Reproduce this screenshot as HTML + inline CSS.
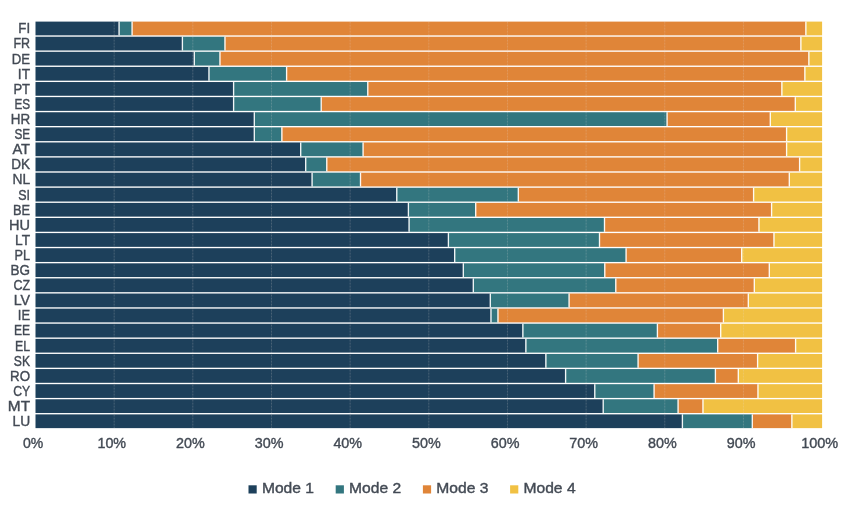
<!DOCTYPE html>
<html><head><meta charset="utf-8"><title>Chart</title>
<style>
html,body{margin:0;padding:0;background:#fff}
svg{display:block}
text{font-family:"Liberation Sans",sans-serif;font-size:15.2px;fill:#434a54;stroke:#434a54;stroke-width:0.4px}
</style></head>
<body>
<svg width="850" height="514" viewBox="0 0 850 514">
<rect width="850" height="514" fill="#fff"/>
<g shape-rendering="geometricPrecision">
<rect x="35.50" y="21.60" width="83.40" height="13.75" fill="#1d405b"/><rect x="118.90" y="21.60" width="13.00" height="13.75" fill="#33767f"/><rect x="131.90" y="21.60" width="673.80" height="13.75" fill="#e08538"/><rect x="805.70" y="21.60" width="16.40" height="13.75" fill="#f1c143"/>
<rect x="35.50" y="36.71" width="146.70" height="13.75" fill="#1d405b"/><rect x="182.20" y="36.71" width="42.60" height="13.75" fill="#33767f"/><rect x="224.80" y="36.71" width="575.90" height="13.75" fill="#e08538"/><rect x="800.70" y="36.71" width="21.40" height="13.75" fill="#f1c143"/>
<rect x="35.50" y="51.81" width="158.60" height="13.75" fill="#1d405b"/><rect x="194.10" y="51.81" width="25.70" height="13.75" fill="#33767f"/><rect x="219.80" y="51.81" width="588.90" height="13.75" fill="#e08538"/><rect x="808.70" y="51.81" width="13.40" height="13.75" fill="#f1c143"/>
<rect x="35.50" y="66.92" width="173.30" height="13.75" fill="#1d405b"/><rect x="208.80" y="66.92" width="77.60" height="13.75" fill="#33767f"/><rect x="286.40" y="66.92" width="518.30" height="13.75" fill="#e08538"/><rect x="804.70" y="66.92" width="17.40" height="13.75" fill="#f1c143"/>
<rect x="35.50" y="82.03" width="197.90" height="13.75" fill="#1d405b"/><rect x="233.40" y="82.03" width="134.20" height="13.75" fill="#33767f"/><rect x="367.60" y="82.03" width="414.10" height="13.75" fill="#e08538"/><rect x="781.70" y="82.03" width="40.40" height="13.75" fill="#f1c143"/>
<rect x="35.50" y="97.13" width="197.90" height="13.75" fill="#1d405b"/><rect x="233.40" y="97.13" width="87.60" height="13.75" fill="#33767f"/><rect x="321.00" y="97.13" width="474.10" height="13.75" fill="#e08538"/><rect x="795.10" y="97.13" width="27.00" height="13.75" fill="#f1c143"/>
<rect x="35.50" y="112.24" width="218.60" height="13.75" fill="#1d405b"/><rect x="254.10" y="112.24" width="412.80" height="13.75" fill="#33767f"/><rect x="666.90" y="112.24" width="103.20" height="13.75" fill="#e08538"/><rect x="770.10" y="112.24" width="52.00" height="13.75" fill="#f1c143"/>
<rect x="35.50" y="127.35" width="218.60" height="13.75" fill="#1d405b"/><rect x="254.10" y="127.35" width="27.60" height="13.75" fill="#33767f"/><rect x="281.70" y="127.35" width="504.70" height="13.75" fill="#e08538"/><rect x="786.40" y="127.35" width="35.70" height="13.75" fill="#f1c143"/>
<rect x="35.50" y="142.46" width="265.00" height="13.75" fill="#1d405b"/><rect x="300.50" y="142.46" width="62.40" height="13.75" fill="#33767f"/><rect x="362.90" y="142.46" width="423.50" height="13.75" fill="#e08538"/><rect x="786.40" y="142.46" width="35.70" height="13.75" fill="#f1c143"/>
<rect x="35.50" y="157.56" width="270.00" height="13.75" fill="#1d405b"/><rect x="305.50" y="157.56" width="21.10" height="13.75" fill="#33767f"/><rect x="326.60" y="157.56" width="472.80" height="13.75" fill="#e08538"/><rect x="799.40" y="157.56" width="22.70" height="13.75" fill="#f1c143"/>
<rect x="35.50" y="172.67" width="276.40" height="13.75" fill="#1d405b"/><rect x="311.90" y="172.67" width="48.40" height="13.75" fill="#33767f"/><rect x="360.30" y="172.67" width="428.80" height="13.75" fill="#e08538"/><rect x="789.10" y="172.67" width="33.00" height="13.75" fill="#f1c143"/>
<rect x="35.50" y="187.78" width="361.10" height="13.75" fill="#1d405b"/><rect x="396.60" y="187.78" width="121.50" height="13.75" fill="#33767f"/><rect x="518.10" y="187.78" width="235.30" height="13.75" fill="#e08538"/><rect x="753.40" y="187.78" width="68.70" height="13.75" fill="#f1c143"/>
<rect x="35.50" y="202.88" width="372.70" height="13.75" fill="#1d405b"/><rect x="408.20" y="202.88" width="67.30" height="13.75" fill="#33767f"/><rect x="475.50" y="202.88" width="295.90" height="13.75" fill="#e08538"/><rect x="771.40" y="202.88" width="50.70" height="13.75" fill="#f1c143"/>
<rect x="35.50" y="217.99" width="373.40" height="13.75" fill="#1d405b"/><rect x="408.90" y="217.99" width="195.40" height="13.75" fill="#33767f"/><rect x="604.30" y="217.99" width="154.50" height="13.75" fill="#e08538"/><rect x="758.80" y="217.99" width="63.30" height="13.75" fill="#f1c143"/>
<rect x="35.50" y="233.10" width="412.70" height="13.75" fill="#1d405b"/><rect x="448.20" y="233.10" width="151.10" height="13.75" fill="#33767f"/><rect x="599.30" y="233.10" width="174.50" height="13.75" fill="#e08538"/><rect x="773.80" y="233.10" width="48.30" height="13.75" fill="#f1c143"/>
<rect x="35.50" y="248.20" width="419.00" height="13.75" fill="#1d405b"/><rect x="454.50" y="248.20" width="171.40" height="13.75" fill="#33767f"/><rect x="625.90" y="248.20" width="115.60" height="13.75" fill="#e08538"/><rect x="741.50" y="248.20" width="80.60" height="13.75" fill="#f1c143"/>
<rect x="35.50" y="263.31" width="427.60" height="13.75" fill="#1d405b"/><rect x="463.10" y="263.31" width="141.50" height="13.75" fill="#33767f"/><rect x="604.60" y="263.31" width="164.50" height="13.75" fill="#e08538"/><rect x="769.10" y="263.31" width="53.00" height="13.75" fill="#f1c143"/>
<rect x="35.50" y="278.42" width="437.60" height="13.75" fill="#1d405b"/><rect x="473.10" y="278.42" width="142.50" height="13.75" fill="#33767f"/><rect x="615.60" y="278.42" width="138.50" height="13.75" fill="#e08538"/><rect x="754.10" y="278.42" width="68.00" height="13.75" fill="#f1c143"/>
<rect x="35.50" y="293.53" width="454.60" height="13.75" fill="#1d405b"/><rect x="490.10" y="293.53" width="78.80" height="13.75" fill="#33767f"/><rect x="568.90" y="293.53" width="179.20" height="13.75" fill="#e08538"/><rect x="748.10" y="293.53" width="74.00" height="13.75" fill="#f1c143"/>
<rect x="35.50" y="308.63" width="455.30" height="13.75" fill="#1d405b"/><rect x="490.80" y="308.63" width="7.00" height="13.75" fill="#33767f"/><rect x="497.80" y="308.63" width="225.40" height="13.75" fill="#e08538"/><rect x="723.20" y="308.63" width="98.90" height="13.75" fill="#f1c143"/>
<rect x="35.50" y="323.74" width="487.20" height="13.75" fill="#1d405b"/><rect x="522.70" y="323.74" width="134.50" height="13.75" fill="#33767f"/><rect x="657.20" y="323.74" width="63.30" height="13.75" fill="#e08538"/><rect x="720.50" y="323.74" width="101.60" height="13.75" fill="#f1c143"/>
<rect x="35.50" y="338.85" width="490.20" height="13.75" fill="#1d405b"/><rect x="525.70" y="338.85" width="191.80" height="13.75" fill="#33767f"/><rect x="717.50" y="338.85" width="77.90" height="13.75" fill="#e08538"/><rect x="795.40" y="338.85" width="26.70" height="13.75" fill="#f1c143"/>
<rect x="35.50" y="353.95" width="510.20" height="13.75" fill="#1d405b"/><rect x="545.70" y="353.95" width="92.20" height="13.75" fill="#33767f"/><rect x="637.90" y="353.95" width="119.50" height="13.75" fill="#e08538"/><rect x="757.40" y="353.95" width="64.70" height="13.75" fill="#f1c143"/>
<rect x="35.50" y="369.06" width="529.90" height="13.75" fill="#1d405b"/><rect x="565.40" y="369.06" width="149.80" height="13.75" fill="#33767f"/><rect x="715.20" y="369.06" width="22.90" height="13.75" fill="#e08538"/><rect x="738.10" y="369.06" width="84.00" height="13.75" fill="#f1c143"/>
<rect x="35.50" y="384.17" width="559.10" height="13.75" fill="#1d405b"/><rect x="594.60" y="384.17" width="59.30" height="13.75" fill="#33767f"/><rect x="653.90" y="384.17" width="103.90" height="13.75" fill="#e08538"/><rect x="757.80" y="384.17" width="64.30" height="13.75" fill="#f1c143"/>
<rect x="35.50" y="399.27" width="567.50" height="13.75" fill="#1d405b"/><rect x="603.00" y="399.27" width="74.90" height="13.75" fill="#33767f"/><rect x="677.90" y="399.27" width="24.90" height="13.75" fill="#e08538"/><rect x="702.80" y="399.27" width="119.30" height="13.75" fill="#f1c143"/>
<rect x="35.50" y="414.38" width="646.70" height="13.75" fill="#1d405b"/><rect x="682.20" y="414.38" width="69.90" height="13.75" fill="#33767f"/><rect x="752.10" y="414.38" width="39.60" height="13.75" fill="#e08538"/><rect x="791.70" y="414.38" width="30.40" height="13.75" fill="#f1c143"/>
</g>
<g stroke="#e6e0da" stroke-opacity="0.22" stroke-width="1" stroke-dasharray="2 1">
<line x1="114.16" y1="21.60" x2="114.16" y2="428.13"/>
<line x1="192.82" y1="21.60" x2="192.82" y2="428.13"/>
<line x1="271.48" y1="21.60" x2="271.48" y2="428.13"/>
<line x1="350.14" y1="21.60" x2="350.14" y2="428.13"/>
<line x1="428.80" y1="21.60" x2="428.80" y2="428.13"/>
<line x1="507.46" y1="21.60" x2="507.46" y2="428.13"/>
<line x1="586.12" y1="21.60" x2="586.12" y2="428.13"/>
<line x1="664.78" y1="21.60" x2="664.78" y2="428.13"/>
<line x1="743.44" y1="21.60" x2="743.44" y2="428.13"/>
</g>
<g stroke="#fff" stroke-opacity="0.92" stroke-width="1.35">
<line x1="119.10" y1="21.60" x2="119.10" y2="35.35"/><line x1="132.10" y1="21.60" x2="132.10" y2="35.35"/><line x1="805.90" y1="21.60" x2="805.90" y2="35.35"/>
<line x1="182.40" y1="36.71" x2="182.40" y2="50.46"/><line x1="225.00" y1="36.71" x2="225.00" y2="50.46"/><line x1="800.90" y1="36.71" x2="800.90" y2="50.46"/>
<line x1="194.30" y1="51.81" x2="194.30" y2="65.56"/><line x1="220.00" y1="51.81" x2="220.00" y2="65.56"/><line x1="808.90" y1="51.81" x2="808.90" y2="65.56"/>
<line x1="209.00" y1="66.92" x2="209.00" y2="80.67"/><line x1="286.60" y1="66.92" x2="286.60" y2="80.67"/><line x1="804.90" y1="66.92" x2="804.90" y2="80.67"/>
<line x1="233.60" y1="82.03" x2="233.60" y2="95.78"/><line x1="367.80" y1="82.03" x2="367.80" y2="95.78"/><line x1="781.90" y1="82.03" x2="781.90" y2="95.78"/>
<line x1="233.60" y1="97.13" x2="233.60" y2="110.88"/><line x1="321.20" y1="97.13" x2="321.20" y2="110.88"/><line x1="795.30" y1="97.13" x2="795.30" y2="110.88"/>
<line x1="254.30" y1="112.24" x2="254.30" y2="125.99"/><line x1="667.10" y1="112.24" x2="667.10" y2="125.99"/><line x1="770.30" y1="112.24" x2="770.30" y2="125.99"/>
<line x1="254.30" y1="127.35" x2="254.30" y2="141.10"/><line x1="281.90" y1="127.35" x2="281.90" y2="141.10"/><line x1="786.60" y1="127.35" x2="786.60" y2="141.10"/>
<line x1="300.70" y1="142.46" x2="300.70" y2="156.21"/><line x1="363.10" y1="142.46" x2="363.10" y2="156.21"/><line x1="786.60" y1="142.46" x2="786.60" y2="156.21"/>
<line x1="305.70" y1="157.56" x2="305.70" y2="171.31"/><line x1="326.80" y1="157.56" x2="326.80" y2="171.31"/><line x1="799.60" y1="157.56" x2="799.60" y2="171.31"/>
<line x1="312.10" y1="172.67" x2="312.10" y2="186.42"/><line x1="360.50" y1="172.67" x2="360.50" y2="186.42"/><line x1="789.30" y1="172.67" x2="789.30" y2="186.42"/>
<line x1="396.80" y1="187.78" x2="396.80" y2="201.53"/><line x1="518.30" y1="187.78" x2="518.30" y2="201.53"/><line x1="753.60" y1="187.78" x2="753.60" y2="201.53"/>
<line x1="408.40" y1="202.88" x2="408.40" y2="216.63"/><line x1="475.70" y1="202.88" x2="475.70" y2="216.63"/><line x1="771.60" y1="202.88" x2="771.60" y2="216.63"/>
<line x1="409.10" y1="217.99" x2="409.10" y2="231.74"/><line x1="604.50" y1="217.99" x2="604.50" y2="231.74"/><line x1="759.00" y1="217.99" x2="759.00" y2="231.74"/>
<line x1="448.40" y1="233.10" x2="448.40" y2="246.85"/><line x1="599.50" y1="233.10" x2="599.50" y2="246.85"/><line x1="774.00" y1="233.10" x2="774.00" y2="246.85"/>
<line x1="454.70" y1="248.20" x2="454.70" y2="261.95"/><line x1="626.10" y1="248.20" x2="626.10" y2="261.95"/><line x1="741.70" y1="248.20" x2="741.70" y2="261.95"/>
<line x1="463.30" y1="263.31" x2="463.30" y2="277.06"/><line x1="604.80" y1="263.31" x2="604.80" y2="277.06"/><line x1="769.30" y1="263.31" x2="769.30" y2="277.06"/>
<line x1="473.30" y1="278.42" x2="473.30" y2="292.17"/><line x1="615.80" y1="278.42" x2="615.80" y2="292.17"/><line x1="754.30" y1="278.42" x2="754.30" y2="292.17"/>
<line x1="490.30" y1="293.53" x2="490.30" y2="307.28"/><line x1="569.10" y1="293.53" x2="569.10" y2="307.28"/><line x1="748.30" y1="293.53" x2="748.30" y2="307.28"/>
<line x1="491.00" y1="308.63" x2="491.00" y2="322.38"/><line x1="498.00" y1="308.63" x2="498.00" y2="322.38"/><line x1="723.40" y1="308.63" x2="723.40" y2="322.38"/>
<line x1="522.90" y1="323.74" x2="522.90" y2="337.49"/><line x1="657.40" y1="323.74" x2="657.40" y2="337.49"/><line x1="720.70" y1="323.74" x2="720.70" y2="337.49"/>
<line x1="525.90" y1="338.85" x2="525.90" y2="352.60"/><line x1="717.70" y1="338.85" x2="717.70" y2="352.60"/><line x1="795.60" y1="338.85" x2="795.60" y2="352.60"/>
<line x1="545.90" y1="353.95" x2="545.90" y2="367.70"/><line x1="638.10" y1="353.95" x2="638.10" y2="367.70"/><line x1="757.60" y1="353.95" x2="757.60" y2="367.70"/>
<line x1="565.60" y1="369.06" x2="565.60" y2="382.81"/><line x1="715.40" y1="369.06" x2="715.40" y2="382.81"/><line x1="738.30" y1="369.06" x2="738.30" y2="382.81"/>
<line x1="594.80" y1="384.17" x2="594.80" y2="397.92"/><line x1="654.10" y1="384.17" x2="654.10" y2="397.92"/><line x1="758.00" y1="384.17" x2="758.00" y2="397.92"/>
<line x1="603.20" y1="399.27" x2="603.20" y2="413.02"/><line x1="678.10" y1="399.27" x2="678.10" y2="413.02"/><line x1="703.00" y1="399.27" x2="703.00" y2="413.02"/>
<line x1="682.40" y1="414.38" x2="682.40" y2="428.13"/><line x1="752.30" y1="414.38" x2="752.30" y2="428.13"/><line x1="791.90" y1="414.38" x2="791.90" y2="428.13"/>
</g>
<g text-anchor="end">
<text x="30.1" y="33.33" textLength="11.80" lengthAdjust="spacingAndGlyphs">FI</text>
<text x="30.1" y="48.43" textLength="16.63" lengthAdjust="spacingAndGlyphs">FR</text>
<text x="30.1" y="63.54" textLength="18.31" lengthAdjust="spacingAndGlyphs">DE</text>
<text x="30.1" y="78.65" textLength="12.27" lengthAdjust="spacingAndGlyphs">IT</text>
<text x="30.1" y="93.75" textLength="16.67" lengthAdjust="spacingAndGlyphs">PT</text>
<text x="30.1" y="108.86" textLength="15.72" lengthAdjust="spacingAndGlyphs">ES</text>
<text x="30.1" y="123.97" textLength="19.36" lengthAdjust="spacingAndGlyphs">HR</text>
<text x="30.1" y="139.07" textLength="15.72" lengthAdjust="spacingAndGlyphs">SE</text>
<text x="30.1" y="154.18" textLength="17.70" lengthAdjust="spacingAndGlyphs">AT</text>
<text x="30.1" y="169.29" textLength="18.84" lengthAdjust="spacingAndGlyphs">DK</text>
<text x="30.1" y="184.39" textLength="17.70" lengthAdjust="spacingAndGlyphs">NL</text>
<text x="30.1" y="199.50" textLength="11.80" lengthAdjust="spacingAndGlyphs">SI</text>
<text x="30.1" y="214.61" textLength="17.13" lengthAdjust="spacingAndGlyphs">BE</text>
<text x="30.1" y="229.72" textLength="21.00" lengthAdjust="spacingAndGlyphs">HU</text>
<text x="30.1" y="244.82" textLength="15.06" lengthAdjust="spacingAndGlyphs">LT</text>
<text x="30.1" y="259.93" textLength="15.55" lengthAdjust="spacingAndGlyphs">PL</text>
<text x="30.1" y="275.04" textLength="19.51" lengthAdjust="spacingAndGlyphs">BG</text>
<text x="30.1" y="290.14" textLength="16.62" lengthAdjust="spacingAndGlyphs">CZ</text>
<text x="30.1" y="305.25" textLength="16.38" lengthAdjust="spacingAndGlyphs">LV</text>
<text x="30.1" y="320.36" textLength="12.28" lengthAdjust="spacingAndGlyphs">IE</text>
<text x="30.1" y="335.47" textLength="16.20" lengthAdjust="spacingAndGlyphs">EE</text>
<text x="30.1" y="350.57" textLength="15.07" lengthAdjust="spacingAndGlyphs">EL</text>
<text x="30.1" y="365.68" textLength="16.25" lengthAdjust="spacingAndGlyphs">SK</text>
<text x="30.1" y="380.79" textLength="20.00" lengthAdjust="spacingAndGlyphs">RO</text>
<text x="30.1" y="395.89" textLength="16.93" lengthAdjust="spacingAndGlyphs">CY</text>
<text x="30.1" y="411.00" textLength="22.28" lengthAdjust="spacingAndGlyphs">MT</text>
<text x="30.1" y="426.11" textLength="17.63" lengthAdjust="spacingAndGlyphs">LU</text>
</g>
<g text-anchor="middle">
<text x="33.10" y="448" textLength="20.29" lengthAdjust="spacingAndGlyphs">0%</text>
<text x="111.76" y="448" textLength="28.70" lengthAdjust="spacingAndGlyphs">10%</text>
<text x="190.42" y="448" textLength="28.70" lengthAdjust="spacingAndGlyphs">20%</text>
<text x="269.08" y="448" textLength="28.70" lengthAdjust="spacingAndGlyphs">30%</text>
<text x="347.74" y="448" textLength="28.70" lengthAdjust="spacingAndGlyphs">40%</text>
<text x="426.40" y="448" textLength="28.70" lengthAdjust="spacingAndGlyphs">50%</text>
<text x="505.06" y="448" textLength="28.70" lengthAdjust="spacingAndGlyphs">60%</text>
<text x="583.72" y="448" textLength="28.70" lengthAdjust="spacingAndGlyphs">70%</text>
<text x="662.38" y="448" textLength="28.70" lengthAdjust="spacingAndGlyphs">80%</text>
<text x="741.04" y="448" textLength="28.70" lengthAdjust="spacingAndGlyphs">90%</text>
<text x="819.70" y="448" textLength="37.12" lengthAdjust="spacingAndGlyphs">100%</text>
</g>
<g>
<rect x="248.50" y="485.3" width="8.2" height="8.2" fill="#1d405b"/><text x="261.90" y="493.1" textLength="52.09" lengthAdjust="spacingAndGlyphs">Mode 1</text>
<rect x="335.70" y="485.3" width="8.2" height="8.2" fill="#33767f"/><text x="349.10" y="493.1" textLength="52.09" lengthAdjust="spacingAndGlyphs">Mode 2</text>
<rect x="422.90" y="485.3" width="8.2" height="8.2" fill="#e08538"/><text x="436.30" y="493.1" textLength="52.09" lengthAdjust="spacingAndGlyphs">Mode 3</text>
<rect x="510.10" y="485.3" width="8.2" height="8.2" fill="#f1c143"/><text x="523.50" y="493.1" textLength="52.09" lengthAdjust="spacingAndGlyphs">Mode 4</text>
</g>
</svg>
</body></html>
